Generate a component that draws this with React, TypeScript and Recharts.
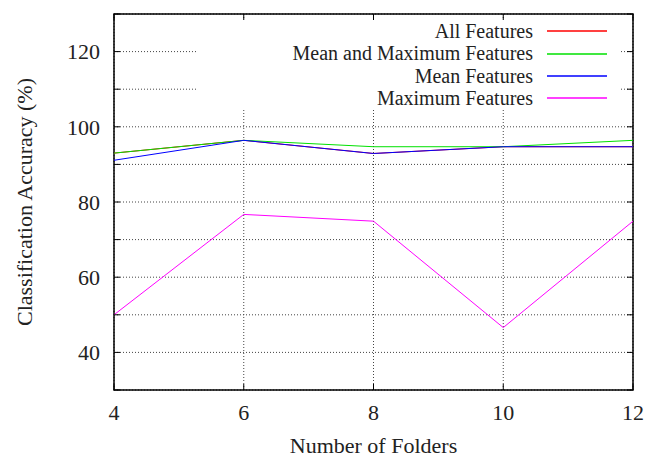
import {
  CartesianGrid,
  Legend,
  Line,
  LineChart,
  ReferenceArea,
  XAxis,
  YAxis,
} from 'recharts'

const folders = [4, 6, 8, 10, 12]
const allFeatures = [93.0, 96.4, 92.9, 94.7, 94.7]
const meanMaxFeatures = [93.0, 96.4, 94.7, 94.7, 96.4]
const meanFeatures = [91.1, 96.4, 92.9, 94.7, 94.7]
const maxFeatures = [50.0, 76.7, 74.9, 46.6, 74.9]

const xTicks = [4, 6, 8, 10, 12]
const yTicks = [30, 40, 50, 60, 70, 80, 90, 100, 110, 120, 130]
const yLabels = [40, 60, 80, 100, 120]

const series = [
  { key: 'all', name: 'All Features', color: '#ff0000', values: allFeatures },
  { key: 'meanMax', name: 'Mean and Maximum Features', color: '#00e000', values: meanMaxFeatures },
  { key: 'mean', name: 'Mean Features', color: '#0000ff', values: meanFeatures },
  { key: 'max', name: 'Maximum Features', color: '#ff00ff', values: maxFeatures },
]

const data = folders.map((f, i) => {
  const row: Record<string, number> = { folders: f }
  series.forEach((s) => (row[s.key] = s.values[i]))
  return row
})

const W = 650
const H = 457
const M = { top: 14, right: 17, bottom: 0, left: 0 }
const PLOT_TOP = M.top
const PLOT_RIGHT = W - M.right
const TICK = 6
const FONT = "'Liberation Serif', 'Times New Roman', serif"
const FS = 22
const KEY_FS = 20
const TXT = '#222'

// gnuplot-style ticks: pointing inward, mirrored on the opposite side
function XTick({ x, y, payload }: any) {
  return (
    <g>
      <line x1={x} y1={y} x2={x} y2={y - TICK} stroke="#000" />
      <line x1={x} y1={PLOT_TOP} x2={x} y2={PLOT_TOP + TICK} stroke="#000" />
      <text x={x} y={y + 22} dy="0.35em" textAnchor="middle" fontFamily={FONT} fontSize={FS} fill={TXT}>
        {payload.value}
      </text>
    </g>
  )
}

function YTick({ x, y, payload }: any) {
  return (
    <g>
      <line x1={x} y1={y} x2={x + TICK} y2={y} stroke="#000" />
      <line x1={PLOT_RIGHT - TICK} y1={y} x2={PLOT_RIGHT} y2={y} stroke="#000" />
      {yLabels.includes(payload.value) && (
        <text x={x - 14} y={y} dy="0.35em" textAnchor="end" fontFamily={FONT} fontSize={FS} fill={TXT}>
          {payload.value}
        </text>
      )}
    </g>
  )
}

// key drawn from the series list, in plot order, on a white box like gnuplot
function KeyBox() {
  return (
    <div style={{ background: '#fff', width: 424, height: 88, fontFamily: FONT, fontSize: KEY_FS, color: TXT }}>
      {series.map((s) => (
        <div key={s.key} style={{ display: 'flex', alignItems: 'center', height: 22.4, lineHeight: '22.4px' }}>
          <span style={{ width: 337, textAlign: 'right', whiteSpace: 'nowrap' }}>{s.name}</span>
          <svg width={74} height={8} style={{ display: 'block' }}>
            <line x1={14} y1={4} x2={74} y2={4} stroke={s.color} strokeWidth={1.5} />
          </svg>
        </div>
      ))}
    </div>
  )
}

export default function App() {
  return (
    <div style={{ position: 'absolute', left: 0, top: 0, width: W, height: H, background: '#fff' }}>
      <LineChart width={W} height={H} data={data} margin={M}>
        <CartesianGrid stroke="#444" strokeDasharray="1 2" vertical horizontal />
        <XAxis
          dataKey="folders"
          type="number"
          domain={[4, 12]}
          ticks={xTicks}
          tick={<XTick />}
          tickLine={false}
          tickSize={0}
          tickMargin={0}
          axisLine={false}
          height={67}
          label={{
            value: 'Number of Folders',
            position: 'insideBottom',
            offset: 4,
            style: { fontFamily: FONT, fontSize: FS, fill: TXT },
          }}
        />
        <YAxis
          type="number"
          domain={[30, 130]}
          ticks={yTicks}
          tick={<YTick />}
          tickLine={false}
          tickSize={0}
          tickMargin={0}
          axisLine={false}
          width={114}
          label={{
            value: 'Classification Accuracy (%)',
            angle: -90,
            position: 'insideLeft',
            offset: 24,
            style: { fontFamily: FONT, fontSize: FS, fill: TXT, textAnchor: 'middle' },
          }}
        />
        <ReferenceArea x1={4} x2={12} y1={30} y2={130} fill="none" stroke="#000" strokeWidth={1.5} />
        <Legend
          layout="horizontal"
          verticalAlign="middle"
          align="center"
          content={<KeyBox />}
          wrapperStyle={{ left: 196, top: 20, width: 424, height: 88 }}
        />
        {series.map((s) => (
          <Line
            key={s.key}
            type="linear"
            dataKey={s.key}
            name={s.name}
            stroke={s.color}
            strokeWidth={1}
            dot={false}
            isAnimationActive={false}
          />
        ))}
      </LineChart>
    </div>
  )
}
